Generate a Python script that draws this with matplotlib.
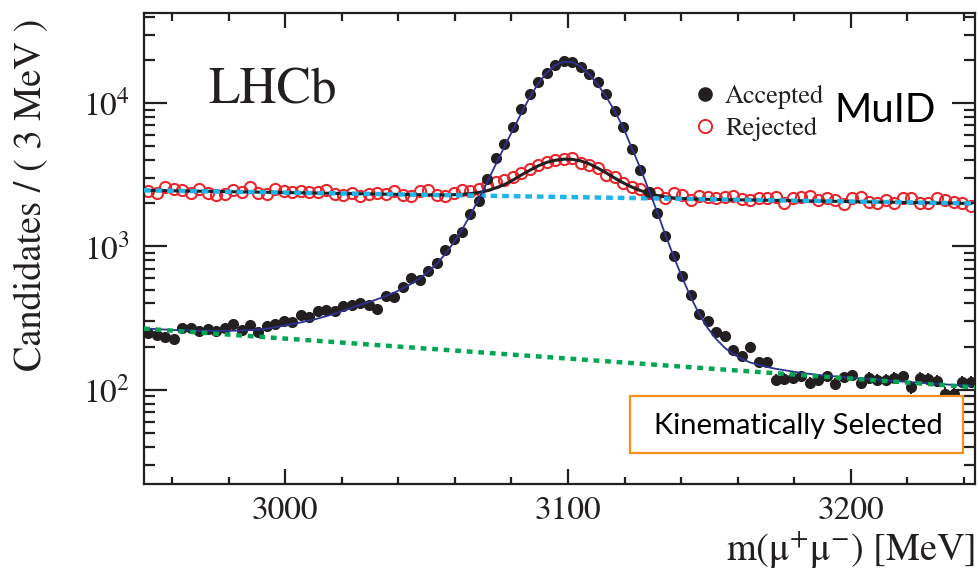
import numpy as np
import matplotlib
matplotlib.use("Agg")
import matplotlib.pyplot as plt
from matplotlib.ticker import MultipleLocator, LogLocator
from matplotlib.lines import Line2D
from matplotlib.patches import Rectangle

plt.rcParams['font.family'] = ['STIXGeneral', 'DejaVu Serif']
plt.rcParams['mathtext.fontset'] = 'stix'

# 3 MeV bins, 2950 - 3244 MeV
bin_width = 3.0
mass = 2950 + bin_width / 2 + bin_width * np.arange(98)

accepted = [248, 242, 233, 226, 269, 269, 259, 265, 255, 269,
            288, 262, 284, 251, 279, 288, 304, 299, 333, 323,
            353, 361, 352, 385, 391, 406, 391, 365, 452, 447,
            525, 600, 584, 678, 764, 946, 1128, 1268, 1675, 2083,
            2938, 4119, 5180, 6770, 9080, 11560, 13930, 16100, 18400, 19720,
            19400, 17900, 15900, 13930, 11560, 8840, 6770, 4755, 3414, 2411,
            1706, 1183, 863, 620, 460, 339, 304, 251, 236, 188,
            173, 200, 155, 155, 117, 119, 121, 125, 112, 117,
            125, 110, 122, 127, 112, 121, 117, 117, 121, 125,
            104, 121, 119, 116, 94, 94, 114, 114]

rejected = [2450, 2370, 2610, 2530, 2490, 2370, 2530, 2370, 2300, 2330,
            2460, 2410, 2610, 2370, 2330, 2530, 2450, 2400, 2450, 2410,
            2410, 2460, 2330, 2300, 2370, 2240, 2330, 2370, 2330, 2450,
            2300, 2240, 2450, 2470, 2300, 2260, 2350, 2470, 2450, 2530,
            2680, 2830, 2920, 3040, 3240, 3450, 3700, 3900, 4010, 4050,
            4120, 3840, 3700, 3510, 3150, 3070, 2780, 2610, 2530, 2370,
            2350, 2170, 2350, 2300, 2110, 2250, 2210, 2180, 2200, 2260,
            2140, 2110, 2190, 2190, 2220, 2000, 2190, 2220, 2260, 2110,
            2190, 2110, 1970, 2190, 2220, 2050, 2020, 2110, 2020, 2190,
            2190, 2000, 2000, 2190, 2110, 2050, 2000, 1920]

# fitted models evaluated at the bin centres
fit_accepted = [267, 265, 263, 261, 260, 259, 258, 258, 258, 258,
                258, 259, 261, 263, 267, 273, 280, 287, 295, 304,
                314, 326, 340, 356, 373, 391, 408, 428, 450, 476,
                508, 548, 598, 665, 755, 880, 1060, 1310, 1660, 2150,
                2830, 3750, 4950, 6500, 8500, 11000, 13700, 16300, 18400, 19400,
                19300, 18000, 15800, 13500, 11100, 8800, 6800, 4900, 3550, 2500,
                1750, 1200, 840, 600, 440, 335, 268, 225, 196, 177,
                164, 155, 149, 144, 140, 137, 134, 131, 129, 127,
                125, 124, 122, 121, 120, 119, 118, 116, 115, 114,
                113, 112, 111, 110, 109, 108, 107, 106]

fit_rejected = [2460, 2455, 2450, 2444, 2439, 2433, 2428, 2423, 2418, 2412,
                2407, 2402, 2397, 2391, 2386, 2381, 2376, 2371, 2366, 2360,
                2355, 2350, 2345, 2340, 2335, 2330, 2325, 2320, 2314, 2309,
                2304, 2299, 2295, 2290, 2285, 2285, 2295, 2310, 2335, 2380,
                2450, 2560, 2700, 2900, 3150, 3400, 3650, 3860, 3990, 4060,
                4050, 3950, 3770, 3520, 3260, 3000, 2780, 2600, 2460, 2350,
                2270, 2215, 2180, 2160, 2147, 2135, 2131, 2126, 2121, 2117,
                2112, 2108, 2103, 2099, 2094, 2090, 2085, 2081, 2076, 2072,
                2067, 2063, 2058, 2054, 2049, 2045, 2041, 2036, 2032, 2028,
                2023, 2019, 2015, 2010, 2006, 2002, 1998, 1994]

# exponential backgrounds (straight on log axis)
bkg_mass = [2950, 3244]
bkg_accepted = [267, 104]
bkg_rejected = [2460, 1994]

W, H = 979, 569
def fpos(x, y):
    return x / W, 1 - y / H

fig = plt.figure(figsize=(W / 100, H / 100), dpi=100)
ax = fig.add_axes([144 / W, 1 - 484 / H, (975 - 144) / W, (484 - 13) / H])

ink = '#231f20'
ax.plot(mass, rejected, 'o', ms=8, mfc='none', mec='#e8262b', mew=1.5, zorder=2)
ax.plot(mass, fit_rejected, '-', color=ink, lw=2.2, zorder=3)
ax.plot(bkg_mass, bkg_rejected, color='#1fb4ea', lw=3.2, ls=(0, (1.5, 1.1)), zorder=4)
ax.errorbar(mass, accepted, yerr=np.sqrt(accepted), xerr=bin_width / 2, fmt='o',
            ms=7, color=ink, ecolor=ink, elinewidth=1.4, capsize=0, zorder=5)
ax.plot(mass, fit_accepted, '-', color='#2e3192', lw=1.3, zorder=6)
ax.plot(bkg_mass, bkg_accepted, color='#00a651', lw=3.2, ls=(0, (1.3, 1.3)), zorder=7)

ax.set_yscale('log')
ax.set_xlim(2950, 3244)
ax.set_ylim(22, 42500)
ax.xaxis.set_major_locator(MultipleLocator(100))
ax.xaxis.set_minor_locator(MultipleLocator(20))
ax.yaxis.set_major_locator(LogLocator(base=10))
ax.yaxis.set_minor_locator(LogLocator(base=10, subs=np.arange(2, 10)))

for s in ax.spines.values():
    s.set_linewidth(1.6)
    s.set_color(ink)
ax.tick_params(which='both', direction='in', top=True, right=True, color=ink,
               width=1.6, labelsize=24, labelcolor=ink)
ax.tick_params(axis='y', which='major', length=16.5, pad=10)
ax.tick_params(axis='y', which='minor', length=8)
ax.tick_params(axis='x', which='major', length=10.8, pad=9)
ax.tick_params(axis='x', which='minor', length=5.4)

fig.text(*fpos(32, 195), 'Candidates / ( 3 MeV )', rotation=90, ha='center',
         va='center', fontsize=27.5, color=ink)
fig.text(*fpos(975, 549), r'm(μ$^{+}$μ$^{-}$) [MeV]', ha='right', va='center',
         fontsize=27.5, color=ink)
fig.text(*fpos(208, 103), 'LHCb', ha='left', va='baseline', fontsize=37, color=ink)
fig.text(*fpos(885, 111), 'MuID', ha='center', va='center', fontsize=29,
         family=['Lato', 'DejaVu Sans'], color='black')

handles = [Line2D([], [], ls='none', marker='o', ms=9.5, color=ink),
           Line2D([], [], ls='none', marker='o', ms=9.5, mfc='none',
                  mec='#e8262b', mew=1.4)]
leg = ax.legend(handles, ['Accepted', 'Rejected'], loc='center left',
                bbox_to_anchor=fpos(692, 113), bbox_transform=fig.transFigure,
                frameon=False, fontsize=19, handlelength=1.0,
                handletextpad=0.25, labelspacing=0.3, borderpad=0,
                borderaxespad=0)
for t in leg.get_texts():
    t.set_color(ink)

x0, y0 = fpos(630, 453)
x1, y1 = fpos(963, 396)
fig.patches.append(Rectangle((x0, y0), x1 - x0, y1 - y0, transform=fig.transFigure,
                             facecolor='white', edgecolor='#f7901e', lw=1.6,
                             zorder=10))
fig.text(*fpos(798, 426), 'Kinematically Selected', ha='center', va='center',
         fontsize=21, family=['Lato', 'DejaVu Sans'], color='black', zorder=11)

fig.savefig('out.png', dpi=100)
